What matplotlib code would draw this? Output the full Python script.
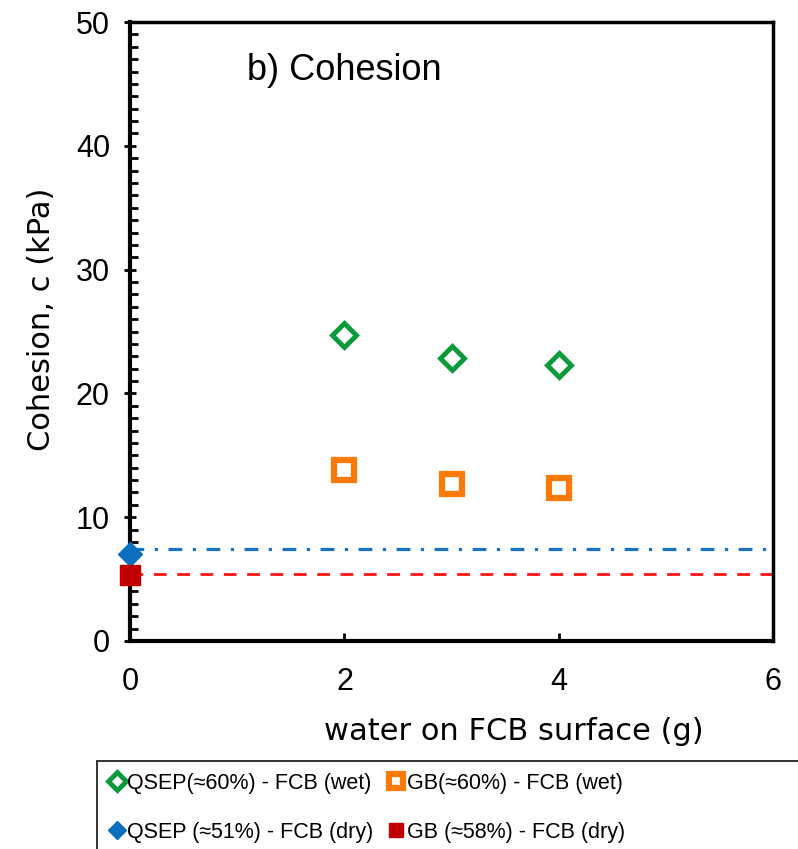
import matplotlib.pyplot as plt
from matplotlib.patches import Rectangle
from matplotlib.ticker import MultipleLocator

plt.rcParams['font.family'] = ['DejaVu Sans']

# datos
agua_wet = [2, 3, 4]
qsep_wet = [24.7, 22.9, 22.3]
gb_wet = [13.8, 12.7, 12.4]
agua_dry = [0]
qsep_dry = [7.0]
gb_dry = [5.3]
qsep_dry_linea = 7.45
gb_dry_linea = 5.4

fig = plt.figure(figsize=(7.98, 8.49), dpi=100)
ax = fig.add_axes([0.163, 0.245, 0.806, 0.729])

ax.axhline(qsep_dry_linea, color='#1a72c2', lw=2.3, ls=(0, (4.3, 3.3, 1.0, 3.3)), zorder=1)
ax.axhline(gb_dry_linea, color='#ff1414', lw=2.0, ls=(0, (4.6, 3.8)), zorder=1)

h1, = ax.plot(agua_wet, qsep_wet, ls='none', marker='D', ms=12, mfc='white',
              mec='#0a9a3a', mew=3.5, label='QSEP(≈60%) - FCB (wet)')
h2, = ax.plot(agua_dry, qsep_dry, ls='none', marker='D', ms=12, color='#0b6fc0',
              label='QSEP (≈51%) - FCB (dry)', clip_on=False, zorder=5)
h3, = ax.plot(agua_wet, gb_wet, ls='none', marker='s', ms=14, mfc='white',
              mec='#ff7a05', mew=4.5, label='GB(≈60%) - FCB (wet)')
h4, = ax.plot(agua_dry, gb_dry, ls='none', marker='s', ms=14, color='#c00000',
              label='GB (≈58%) - FCB (dry)', clip_on=False, zorder=5)

ax.set_xlim(0, 6)
ax.set_ylim(0, 50)
ax.xaxis.set_major_locator(MultipleLocator(2))
ax.yaxis.set_major_locator(MultipleLocator(10))
ax.yaxis.set_minor_locator(MultipleLocator(1))

ax.tick_params(axis='x', which='major', direction='in', length=6, width=2,
               labelsize=22, pad=19, top=False)
ax.tick_params(axis='y', which='major', direction='inout', length=9, width=2,
               labelsize=22, pad=10, right=False)
ax.tick_params(axis='y', which='minor', direction='in', length=6, width=2, right=False)
for lbl in ax.get_xticklabels() + ax.get_yticklabels():
    lbl.set_family(['Liberation Sans', 'DejaVu Sans'])

for lado in ['left', 'bottom']:
    ax.spines[lado].set_linewidth(3)
for lado in ['top', 'right']:
    ax.spines[lado].set_linewidth(2.5)

ax.set_xlabel('water on FCB surface (g)', fontsize=22, labelpad=14)
ax.xaxis.label.set_x(0.597)
ax.set_ylabel('Cohesion, c (kPa)', fontsize=22, labelpad=14)
ax.yaxis.label.set_y(0.52)
ax.text(0.182, 0.922, 'b) Cohesion', transform=ax.transAxes, fontsize=26,
        va='center', family=['Liberation Sans', 'DejaVu Sans'])

# marco de la leyenda (se sale de la figura como en el original)
fig.patches.append(Rectangle((0.1216, -0.05), 0.95, 0.1537, transform=fig.transFigure,
                             fill=False, ec='#222222', lw=1.3))
fig.legend(handles=[h1, h2, h3, h4], ncol=2, loc='upper left',
           bbox_to_anchor=(0.122, 0.104), borderaxespad=0,
           prop={'family': ['Liberation Sans', 'DejaVu Sans'], 'size': 15.5},
           frameon=False, handlelength=0.7,
           handletextpad=0.15, columnspacing=0.7, borderpad=0.55,
           labelspacing=1.3, markerscale=0.75)

fig.savefig('out.png', dpi=100)
